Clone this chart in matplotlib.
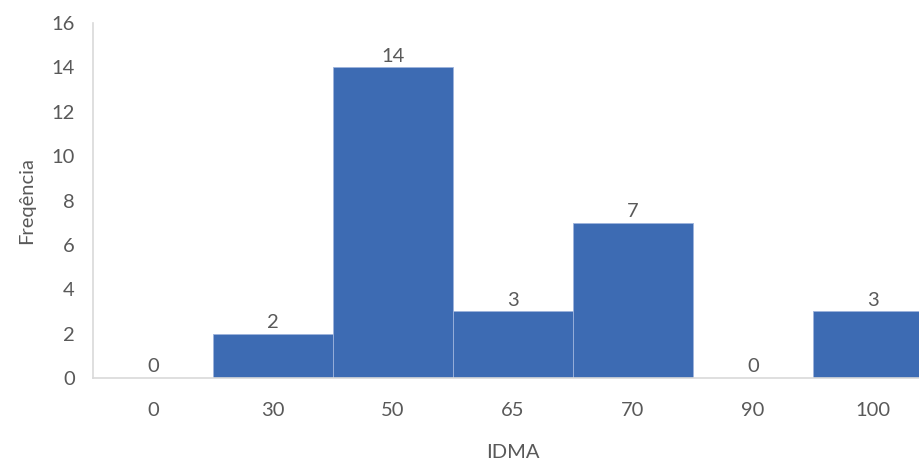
import matplotlib.pyplot as plt

plt.rcParams['font.family'] = ['Lato', 'DejaVu Sans']

categorias = ['0', '30', '50', '65', '70', '90', '100']
frequencias = [0, 2, 14, 3, 7, 0, 3]
y_ticks = [0, 2, 4, 6, 8, 10, 12, 14, 16]

cor_texto = '#595959'
cor_barra = '#3D6BB3'
cor_eixo = '#D9D9D9'
tam = 14.5

fig = plt.figure(figsize=(9.2, 4.65), dpi=100)
ax = fig.add_axes([93 / 920, 87 / 465, 840 / 920, 355 / 465])

pos = list(range(len(categorias)))
barras = ax.bar(pos, frequencias, width=1.0, color=cor_barra,
                edgecolor='#9DB3DC', linewidth=0.6)

# rótulos de valor acima de cada barra
for x, v in zip(pos, frequencias):
    ax.annotate(str(v), (x, v), xytext=(0, 2), textcoords='offset points',
                ha='center', va='bottom', fontsize=tam, color=cor_texto)

ax.set_xlim(-0.5, len(categorias) - 0.5)
ax.set_ylim(0, 16)
ax.set_xticks(pos)
ax.set_xticklabels(categorias)
ax.set_yticks(y_ticks)
ax.tick_params(axis='both', length=0, labelsize=tam, labelcolor=cor_texto)
ax.tick_params(axis='x', pad=17)
ax.tick_params(axis='y', pad=13)

for lado in ['top', 'right']:
    ax.spines[lado].set_visible(False)
ax.spines['left'].set_color(cor_eixo)
ax.spines['bottom'].set_color(cor_eixo)
ax.spines['left'].set_linewidth(1.2)
ax.spines['bottom'].set_linewidth(1.2)

ax.set_xlabel('IDMA', fontsize=tam, color=cor_texto, labelpad=18)
ax.set_ylabel('Freqência', fontsize=tam, color=cor_texto, labelpad=12)

fig.savefig('out.png', dpi=100)
